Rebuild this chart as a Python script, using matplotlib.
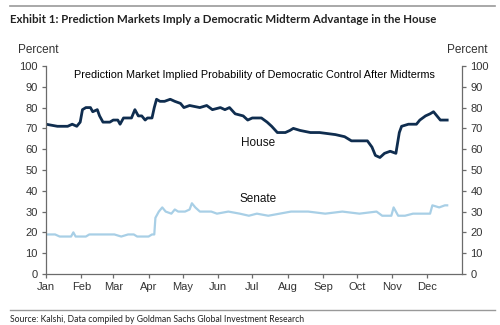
import matplotlib.pyplot as plt
import matplotlib.dates as mdates
from matplotlib.lines import Line2D
import pandas as pd

plt.rcParams['font.family'] = ['Liberation Sans', 'DejaVu Sans']

navy = '#0f2d4f'
light_blue = '#a8cfe6'
axis_grey = '#6b6b6b'

# values (2025, percent)
house_dates = ['01-01', '01-11', '01-20', '01-24', '01-28', '01-31', '02-02', '02-05',
               '02-09', '02-11', '02-15', '02-17', '02-20', '02-26', '03-01', '03-05',
               '03-07', '03-10', '03-17', '03-20', '03-23', '03-26', '03-29', '03-31',
               '04-04', '04-06', '04-08', '04-11', '04-15', '04-20', '04-24', '04-29',
               '05-02', '05-07', '05-16', '05-22', '05-27', '06-03', '06-07', '06-11',
               '06-16', '06-23', '06-27', '07-01', '07-09', '07-14', '07-18', '07-23',
               '07-30', '08-03', '08-06', '08-12', '08-21', '08-29', '09-12', '09-20',
               '09-26', '10-03', '10-10', '10-14', '10-17', '10-21', '10-25', '10-30',
               '11-04', '11-07', '11-09', '11-15', '11-22', '11-25', '11-30', '12-04',
               '12-07', '12-10', '12-13', '12-19']
house = [72, 71, 71, 72, 71, 73, 79, 80,
         80, 78, 79, 76, 73, 73, 74, 74,
         72, 75, 75, 79, 76, 76, 74, 75,
         75, 80, 84, 83, 83, 84, 83, 82,
         80, 81, 80, 81, 79, 80, 79, 80,
         77, 76, 74, 75, 75, 73, 71, 68,
         68, 69, 70, 69, 68, 68, 67, 66,
         64, 64, 64, 61, 57, 56, 58, 59,
         58, 68, 71, 72, 72, 74, 76, 77,
         78, 76, 74, 74]

senate_dates = ['01-01', '01-09', '01-13', '01-23', '01-25', '01-27', '02-05', '02-08',
                '03-02', '03-08', '03-14', '03-19', '03-22', '04-01', '04-04', '04-06',
                '04-07', '04-10', '04-13', '04-16', '04-21', '04-24', '04-27', '05-03',
                '05-07', '05-09', '05-12', '05-16', '05-26', '05-31', '06-10', '06-20',
                '06-28', '07-05', '07-15', '07-25', '08-04', '08-19', '09-03', '09-18',
                '10-03', '10-18', '10-23', '10-31', '11-02', '11-06', '11-12', '11-19',
                '11-27', '12-04', '12-06', '12-12', '12-17', '12-19']
senate = [19, 19, 18, 18, 20, 18, 18, 19,
          19, 18, 19, 19, 18, 18, 19, 19,
          27, 30, 32, 30, 29, 31, 30, 30,
          31, 34, 32, 30, 30, 29, 30, 29,
          28, 29, 28, 29, 30, 30, 29, 30,
          29, 30, 28, 28, 32, 28, 28, 29,
          29, 29, 33, 32, 33, 33]

months = ['Jan', 'Feb', 'Mar', 'Apr', 'May', 'Jun', 'Jul', 'Aug', 'Sep', 'Oct', 'Nov', 'Dec']

house_x = pd.to_datetime(['2025-' + d for d in house_dates])
senate_x = pd.to_datetime(['2025-' + d for d in senate_dates])

fig = plt.figure(figsize=(5, 3.25), dpi=100)
ax = fig.add_axes([0.092, 0.157, 0.832, 0.64])

ax.plot(house_x, house, color=navy, lw=2.0)
ax.plot(senate_x, senate, color=light_blue, lw=1.6)

ax.set_xlim(pd.Timestamp('2025-01-01'), pd.Timestamp('2026-01-01'))
ax.set_ylim(0, 100)
ax.set_yticks(range(0, 101, 10))
ax.set_xticks(pd.date_range('2025-01-01', periods=12, freq='MS'))
ax.set_xticklabels(months)

ax.spines['top'].set_visible(False)
for s in ['left', 'right', 'bottom']:
    ax.spines[s].set_color(axis_grey)
    ax.spines[s].set_linewidth(0.9)
ax.tick_params(axis='both', direction='out', length=3, width=0.9,
               color=axis_grey, labelsize=8, labelcolor='#333333', pad=3)
ax.tick_params(axis='y', right=True, labelright=True)

ax.text(0.5, 0.955, 'Prediction Market Implied Probability of Democratic Control After Midterms',
        transform=ax.transAxes, ha='center', va='center', fontsize=7.8, color='black')
ax.text(pd.Timestamp('2025-07-06'), 63, 'House', ha='center', va='center',
        fontsize=8.5, color='#111111')
ax.text(pd.Timestamp('2025-07-06'), 36, 'Senate', ha='center', va='center',
        fontsize=8.5, color='#111111')

fig.text(0.036, 0.846, 'Percent', ha='left', va='center', fontsize=8.5, color='#333333')
fig.text(0.974, 0.846, 'Percent', ha='right', va='center', fontsize=8.5, color='#333333')

fig.text(0.02, 0.94, 'Exhibit 1: Prediction Markets Imply a Democratic Midterm Advantage in the House',
         ha='left', va='center', fontsize=8.3, fontweight='bold', family='Lato', color='#222222')
fig.text(0.02, 0.018, 'Source: Kalshi, Data compiled by Goldman Sachs Global Investment Research',
         ha='left', va='center', fontsize=6.2, family='Lato', color='#222222')

fig.add_artist(Line2D([0.02, 0.99], [0.982, 0.982], color='#999999', lw=1.2))
fig.add_artist(Line2D([0.02, 0.99], [0.047, 0.047], color='#999999', lw=1.0))

fig.savefig('out.png', dpi=100)
